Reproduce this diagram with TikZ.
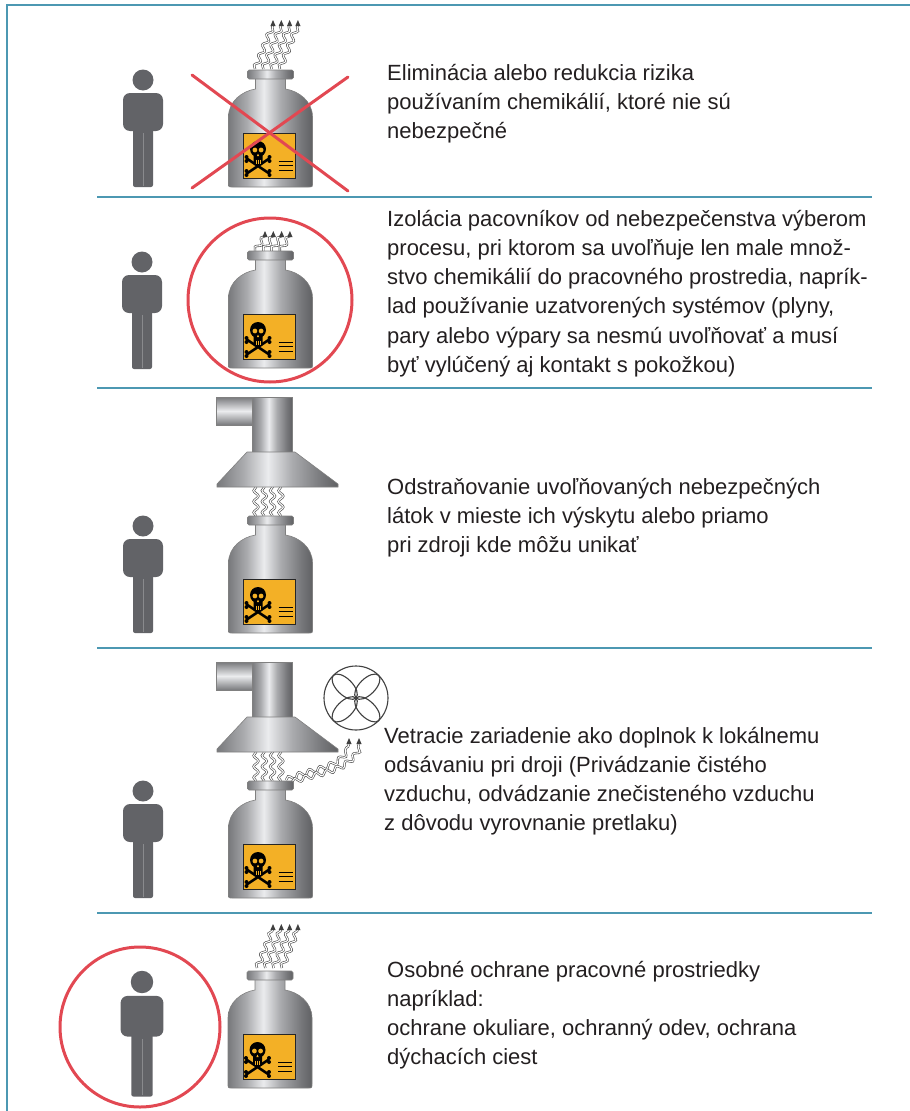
\documentclass[tikz,border=0pt]{standalone}
\usepackage{fontspec}
\setmainfont{Liberation Sans}
\usetikzlibrary{decorations.pathmorphing,calc}

\definecolor{framecol}{RGB}{76,152,178}
\definecolor{personcol}{RGB}{98,99,103}
\definecolor{warnred}{RGB}{226,72,82}
\definecolor{labelcol}{RGB}{243,176,38}
\definecolor{textcol}{RGB}{35,31,32}
\definecolor{mdark}{RGB}{120,121,124}
\definecolor{mmid}{RGB}{170,171,174}
\definecolor{mlight}{RGB}{235,236,238}

% brushed-metal gradient for bottles, ducts and hoods
\pgfdeclarehorizontalshading{metal}{100bp}{color(0bp)=(mdark); color(25bp)=(mdark); color(36bp)=(mmid); color(46bp)=(mlight); color(56bp)=(mmid); color(68bp)=(mdark); color(75bp)=(mdark!80!black); color(100bp)=(mdark!80!black)}

\tikzset{
  framestyle/.style={draw=framecol, line width=2.6pt},
  septyle/.style={draw=framecol, line width=2.6pt},
  redmark/.style={draw=warnred, line width=3pt, line cap=round},
  txt/.style={anchor=base west, align=left, inner sep=0pt, text=textcol,
    font=\fontsize{22pt}{29.3pt}\selectfont},
  metalpart/.style={shading=metal, draw=black!50, line width=0.6pt},
  fume/.style={draw=black!72, double=white, double distance=1.1pt, line width=0.6pt,
    decorate, decoration={snake, amplitude=2.4pt, segment length=11pt}},
  fumetip/.style={fill=black!75},
  fanline/.style={draw=black!75, line width=1.1pt},
  person/.pic={
    \fill[personcol] (0,0) circle[radius=10.5pt];
    \fill[personcol, rounded corners=7pt] (-20,13) rectangle (20,51);
    \fill[personcol, rounded corners=2pt] (-10,44) rectangle (10,107);
    \draw[personcol!75!white, line width=0.7pt] (0,53) -- (0,106);
  },
  bottle/.pic={
    \draw[metalpart] (-42,-4) -- (-42,-70) .. controls (-42,-86) and (-28,-96) .. (-15,-98)
      -- (-15,-109) -- (15,-109) -- (15,-98) .. controls (28,-96) and (42,-86) .. (42,-70)
      -- (42,-4) .. controls (42,0) .. (38,0) -- (-38,0) .. controls (-42,0) .. (-42,-4) -- cycle;
    \draw[metalpart, rounded corners=1.5pt] (-23,-117) rectangle (23,-108);
    \draw[fill=labelcol, draw=black!85, line width=1pt] (-27,-54) rectangle (25,-9);
    % crossed bones
    \draw[black, line width=2.6pt, line cap=round] (-23,-28) -- (-2,-14) (-23,-14) -- (-2,-28);
    \fill[black] (-24,-30) circle[radius=2pt] (-24,-26) circle[radius=2pt]
      (-24,-16) circle[radius=2pt] (-24,-12) circle[radius=2pt]
      (-1,-30) circle[radius=2pt] (-1,-26) circle[radius=2pt]
      (-1,-16) circle[radius=2pt] (-1,-12) circle[radius=2pt];
    % skull
    \fill[black] (-12.5,-38) circle[radius=8pt];
    \fill[black, rounded corners=1pt] (-17,-33) rectangle (-8,-22);
    \fill[labelcol] (-15.6,-37) circle[radius=2.4pt] (-9.4,-37) circle[radius=2.4pt];
    \fill[labelcol] (-12.5,-33.5) -- (-13.6,-31) -- (-11.4,-31) -- cycle;
    \draw[labelcol, line width=0.5pt] (-14.6,-27.5) -- (-14.6,-23) (-12.5,-27.5) -- (-12.5,-23)
      (-10.4,-27.5) -- (-10.4,-23);
    % text bars
    \draw[black, line width=1pt] (8,-26) -- (22,-26) (8,-21.5) -- (22,-21.5) (8,-17) -- (22,-17);
  },
  hood/.pic={
    % horizontal arm of the duct elbow
    \draw[top color=mdark, bottom color=mdark, middle color=mlight, draw=black!50, line width=0.6pt]
      (-62,-90) rectangle (-24,-62);
    % vertical arm
    \draw[metalpart] (-26,-90) -- (14,-90) -- (14,-35) -- (-26,-35) -- cycle;
    \draw[metalpart] (-31,-35) -- (17,-35) -- (60,-3) -- (60,0) -- (-61,0) -- (-61,-3) -- cycle;
  },
  fan/.pic={
    \draw[fanline, fill=white] (0,0) circle[radius=32pt];
    \foreach \a in {45,135,225,315}
      \draw[fanline, rotate=\a] (16,0) ellipse[x radius=16pt, y radius=8pt];
  }
}

\begin{document}
\begin{tikzpicture}[x=1pt,y=-1pt]
\useasboundingbox (0,0) rectangle (910,1111);

% outer frame and row separators
\draw[framestyle] (7,1111) -- (7,5) -- (910,5);
\draw[septyle] (97,197) -- (872,197);
\draw[septyle] (97,388) -- (872,388);
\draw[septyle] (97,648) -- (872,648);
\draw[septyle] (97,913) -- (872,913);

% ---- row 1: substitution
\pic at (143,80) {person};
\foreach \i in {0,...,3} {
  \draw[fume] ({255+8.3*\i},69) -- ({273+8.3*\i},25);
  \fill[fumetip] ({273+8.3*\i},20) -- ++(-2.6,6) -- ++(5.2,0) -- cycle;
}
\pic at (270.5,187) {bottle};
\draw[redmark] (192,75) -- (348,191);
\draw[redmark] (192,188) -- (348,77);
\node[txt] (t1) at (387,138.6) {Eliminácia alebo redukcia rizika\\používaním chemikálií, ktoré nie sú\\nebezpečné};

% ---- row 2: isolation
\pic at (142,262) {person};
\foreach \i in {0,...,3} {
  \draw[fume] ({255+8.3*\i},251) -- ({265+8.3*\i},236);
  \fill[fumetip] ({265+8.3*\i},231) -- ++(-2.6,6) -- ++(5.2,0) -- cycle;
}
\pic at (270.5,368) {bottle};
\draw[redmark] (270,300) circle[radius=82pt];
\node[txt] (t2) at (387,372.5) {Izolácia pacovníkov od nebezpečenstva výberom\\procesu, pri ktorom sa uvoľňuje len male množ-\\stvo chemikálií do pracovného prostredia, naprík-\\lad používanie uzatvorených systémov (plyny,\\pary alebo výpary sa nesmú uvoľňovať a musí\\byť vylúčený aj kontakt s pokožkou)};

% ---- row 3: local exhaust
\pic at (143,526) {person};
\foreach \i in {0,...,3}
  \draw[fume] ({256+8.3*\i},516) -- ({256+8.3*\i},487);
\pic at (270.5,633) {bottle};
\pic at (278,487) {hood};
\node[txt] (t3) at (387,552.6) {Odstraňovanie uvoľňovaných nebezpečných\\látok v mieste ich výskytu alebo priamo\\pri zdroji kde môžu unikať};

% ---- row 4: ventilation
\pic at (143,791) {person};
\foreach \i in {0,...,3}
  \draw[fume] ({256+8.3*\i},781) -- ({256+8.3*\i},752);
\draw[fume] (286,780) .. controls (312,768) and (338,772) .. (349,744);
\draw[fume] (292,782) .. controls (320,772) and (348,774) .. (359,744);
\fill[fumetip] (349,738) -- ++(-2.6,6) -- ++(5.2,0) -- cycle;
\fill[fumetip] (359,738) -- ++(-2.6,6) -- ++(5.2,0) -- cycle;
\pic at (270.5,898) {bottle};
\pic at (278,752) {hood};
\pic at (356,698) {fan};
\node[txt] (t4) at (384,830.9) {Vetracie zariadenie ako doplnok k lokálnemu\\odsávaniu pri droji (Privádzanie čistého\\vzduchu, odvádzanie znečisteného vzduchu\\z dôvodu vyrovnanie pretlaku)};

% ---- row 5: personal protection
\pic[scale=1.07] at (142,982) {person};
\draw[redmark] (140,1027) circle[radius=80pt];
\foreach \i in {0,...,3} {
  \draw[fume] ({257+8.3*\i},968) -- ({273+8.3*\i},929);
  \fill[fumetip] ({273+8.3*\i},924) -- ++(-2.6,6) -- ++(5.2,0) -- cycle;
}
\pic at (270,1088) {bottle};
\node[txt] (t5) at (387,1064.9) {Osobné ochrane pracovné prostriedky\\napríklad:\\ochrane okuliare, ochranný odev, ochrana\\dýchacích ciest};
\end{tikzpicture}
\end{document}
